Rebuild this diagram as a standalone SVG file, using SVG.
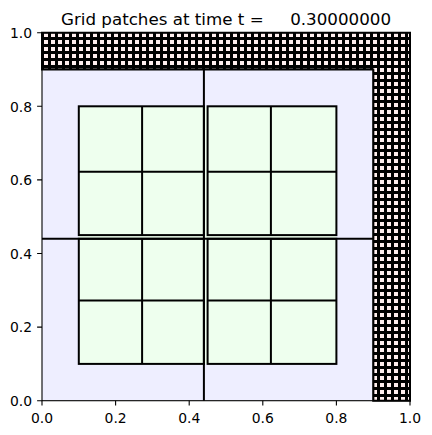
<svg xmlns="http://www.w3.org/2000/svg" width="432" height="435" viewBox="0 0 432 435">
<style>
text { font-family: "DejaVu Sans", sans-serif; fill: #000; }
.tick { font-size: 13.9px; }
.title { font-size: 16.7px; white-space: pre; }
.ln { stroke: #000; stroke-width: 2; fill: none; }
.l1 { fill: #eeeeff; }
.l2 { fill: #eeffee; }
.ax { stroke: #000; stroke-width: 1.1; fill: none; }
</style>
<defs>
<pattern id="hatch" patternUnits="userSpaceOnUse" x="44" y="33" width="7" height="7">
<rect width="7" height="7" fill="#000"/>
<rect width="4" height="4" fill="#ffeeee"/>
</pattern>
</defs>
<rect width="432" height="435" fill="#fff"/>
<g id="boundary">
<path d="M42,32.7 H410 V400.7 H373.2 V69.5 H42 Z" fill="url(#hatch)" stroke="#000" stroke-width="2"/>
</g>
<g id="level1">
<rect class="l1" x="42" y="69.5" width="331.2" height="331.2"/>
<line class="ln" x1="42" y1="69.5" x2="373.2" y2="69.5"/>
<line class="ln" x1="373.2" y1="69.5" x2="373.2" y2="400.7"/>
</g>
<g id="level2">
<rect class="l2" x="78.8" y="106.3" width="257.6" height="257.6"/>
</g>
<g id="patch-bl">
<rect class="ln" x="78.8" y="238.8" width="125.1" height="125.1"/>
<line class="ln" x1="142.1" y1="238.8" x2="142.1" y2="363.9"/>
<line class="ln" x1="78.8" y1="300.6" x2="203.9" y2="300.6"/>
</g>
<g id="patch-br">
<rect class="ln" x="207.6" y="238.8" width="128.8" height="125.1"/>
<line class="ln" x1="270.9" y1="238.8" x2="270.9" y2="363.9"/>
<line class="ln" x1="207.6" y1="300.6" x2="336.4" y2="300.6"/>
</g>
<g id="patch-tl">
<rect class="ln" x="78.8" y="106.3" width="125.1" height="128.8"/>
<line class="ln" x1="142.1" y1="106.3" x2="142.1" y2="235.1"/>
<line class="ln" x1="78.8" y1="171.8" x2="203.9" y2="171.8"/>
</g>
<g id="patch-tr">
<rect class="ln" x="207.6" y="106.3" width="128.8" height="128.8"/>
<line class="ln" x1="270.9" y1="106.3" x2="270.9" y2="235.1"/>
<line class="ln" x1="207.6" y1="171.8" x2="336.4" y2="171.8"/>
</g>
<g id="level1-lines">
<line class="ln" x1="203.9" y1="69.5" x2="203.9" y2="400.7"/>
<line class="ln" x1="42" y1="238.8" x2="373.2" y2="238.8"/>
</g>
<g id="axes">
<rect class="ax" x="42" y="32.7" width="368" height="368"/>
<path class="ax" d="M42,400.7v4.9 M115.6,400.7v4.9 M189.2,400.7v4.9 M262.8,400.7v4.9 M336.4,400.7v4.9 M410,400.7v4.9 M42,400.7h-4.9 M42,327.1h-4.9 M42,253.5h-4.9 M42,179.9h-4.9 M42,106.3h-4.9 M42,32.7h-4.9"/>
<g class="tick" text-anchor="middle">
<text x="42" y="423">0.0</text>
<text x="115.6" y="423">0.2</text>
<text x="189.2" y="423">0.4</text>
<text x="262.8" y="423">0.6</text>
<text x="336.4" y="423">0.8</text>
<text x="410" y="423">1.0</text>
</g>
<g class="tick" text-anchor="end">
<text x="32" y="406">0.0</text>
<text x="32" y="332.4">0.2</text>
<text x="32" y="258.8">0.4</text>
<text x="32" y="185.2">0.6</text>
<text x="32" y="111.6">0.8</text>
<text x="32" y="38">1.0</text>
</g>
</g>
<text class="title" x="226" y="24.5" text-anchor="middle" xml:space="preserve">Grid patches at time t =     0.30000000</text>
</svg>
